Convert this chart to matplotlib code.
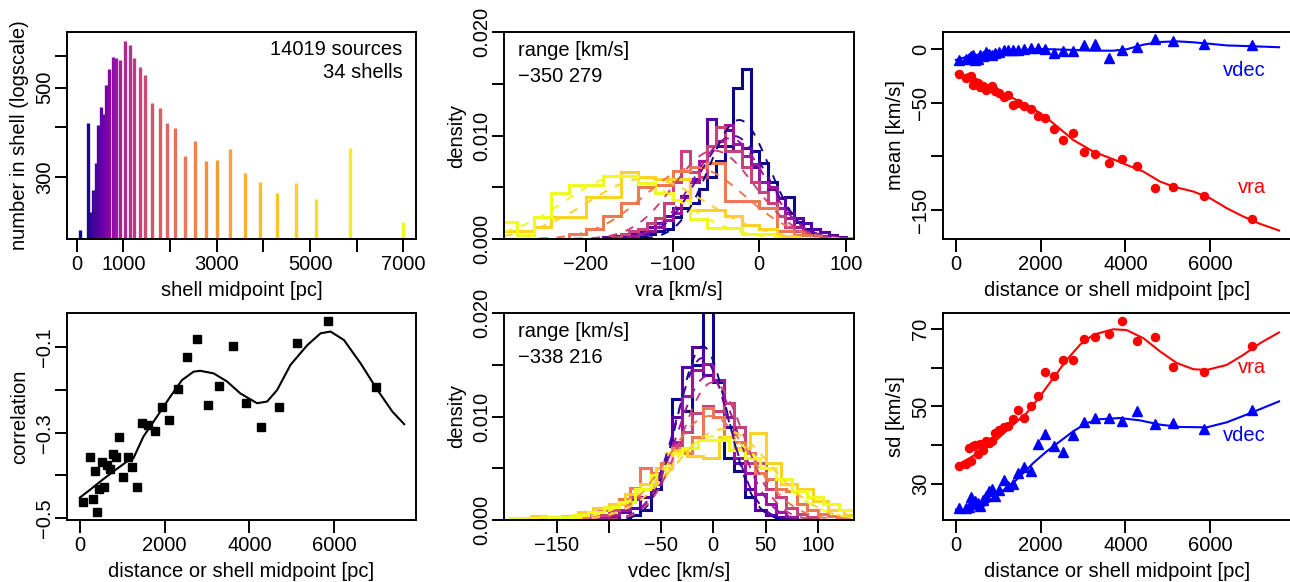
import numpy as np
import matplotlib
matplotlib.use("Agg")
import matplotlib.pyplot as plt
from matplotlib.ticker import NullLocator

plt.rcParams['font.family'] = ['Liberation Sans', 'DejaVu Sans']
plt.rcParams['font.size'] = 14.5
plt.rcParams['axes.linewidth'] = 1.4

# ---- values ----
shell_mid = [71, 235, 300, 357, 414, 457, 521, 578, 628, 699, 771, 849, 928, 1028,
             1136, 1235, 1350, 1471, 1613, 1778, 1935, 2113, 2314, 2528, 2764, 3013,
             3291, 3606, 3928, 4286, 4693, 5121, 5856, 6998]
n_in_shell = [221, 409, 245, 278, 324, 403, 447, 430, 507, 558, 598, 593, 585, 655,
              638, 592, 562, 539, 457, 446, 408, 397, 338, 368, 329, 330, 352, 307,
              291, 273, 289, 264, 354, 232]

vra_mean = [-23.2, -26.6, -25.7, -25.0, -33.5, -30.4, -32.0, -35.7, -34.5, -38.2, -36.6,
            -34.1, -38.8, -40.7, -45.0, -43.2, -52.2, -50.6, -53.1, -55.6, -62.1, -64.3,
            -74.8, -85.1, -77.9, -95.6, -97.8, -106.5, -102.1, -108.7, -129.8, -128.2,
            -136.9, -158.3]
vdec_mean = [-10, -9, -8, -7, -5.5, -10.5, -9, -6, -7, -3, -5, -5.5, -4, -3, -1, -1, -0.5,
             -1, 0, 1, 1, 0, -3.4, -2, -2, 3.7, 4.7, -8.7, -1, 1.6, 9.2, 7.4, 4.7, 3.5]
vra_sd = [34.7, 35.2, 39.3, 35.8, 39.7, 40.0, 37.8, 40.4, 38.8, 41.2, 40.6, 41.0, 43.1,
          44.0, 44.8, 45.0, 46.7, 49.0, 47.1, 50.2, 52.6, 58.9, 57.8, 62.0, 62.0, 67.3,
          68.0, 68.6, 72.1, 66.8, 68.0, 60.1, 59.0, 65.6]
vdec_sd = [23.8, 23.8, 24.0, 26.7, 25.1, 25.5, 25.0, 24.2, 25.8, 27.0, 28.1, 28.7, 26.8,
           28.5, 30.9, 29.4, 30.0, 32.8, 34.5, 33.3, 40.4, 43.0, 39.7, 38.2, 42.7, 46.1,
           47.0, 47.0, 46.3, 48.7, 45.5, 45.7, 44.2, 49.1]
corr = [-0.463, -0.356, -0.456, -0.389, -0.487, -0.432, -0.369, -0.427, -0.376, -0.384,
        -0.350, -0.356, -0.309, -0.403, -0.356, -0.380, -0.427, -0.278, -0.282, -0.295,
        -0.239, -0.270, -0.198, -0.122, -0.081, -0.235, -0.190, -0.098, -0.231, -0.286,
        -0.239, -0.089, -0.0375, -0.194]

# smooth fits
fit_x_vra_mean = [0, 331, 882, 1354, 1984, 2299, 2772, 3244, 3717, 4031, 4425, 4819,
                  5134, 5606, 6000, 6394, 6787, 7181, 7630]
fit_vra_mean = [-22.7, -28.3, -38.2, -45.9, -59.5, -69.2, -84.8, -95.6, -102.8, -108.0,
                -114.2, -123.5, -128.2, -132.8, -139.0, -148.3, -156.1, -162.9, -169.1]
fit_x_vdec_mean = [0, 331, 882, 1354, 1984, 2772, 3244, 3717, 4031, 4425, 4819, 5213,
                   5606, 6000, 6394, 7024, 7630]
fit_vdec_mean = [-10.2, -6.5, -3.0, -1.6, 0.0, -0.9, -1.6, -1.6, -0.3, 4.0, 6.5, 7.1,
                 6.2, 4.8, 3.3, 2.5, 1.6]
fit_x_vra_sd = [0, 331, 882, 1354, 1669, 1984, 2299, 2614, 2929, 3244, 3717, 4031, 4425,
                4819, 5213, 5606, 5921, 6394, 6787, 7181, 7630]
fit_vra_sd = [34.7, 36.7, 40.6, 45.3, 48.3, 52.6, 57.3, 62.0, 65.9, 68.5, 69.9, 69.7,
              67.6, 64.2, 61.2, 59.6, 59.4, 60.7, 63.3, 66.3, 69.1]
fit_x_vdec_sd = [0, 331, 646, 1039, 1433, 1827, 2142, 2457, 2772, 3087, 3402, 3874, 4346,
                 4819, 5291, 5921, 6394, 6866, 7630]
fit_vdec_sd = [23.4, 23.2, 24.2, 27.7, 31.1, 35.4, 38.4, 41.0, 43.6, 45.7, 46.7, 47.0,
               46.4, 45.3, 44.7, 44.6, 45.9, 47.9, 51.3]
fit_x_corr = [0, 237, 474, 789, 1105, 1263, 1500, 1815, 2131, 2407, 2684, 2841, 3157,
              3473, 3788, 4183, 4420, 4657, 4972, 5367, 5683, 5919, 6235, 6630, 7025,
              7380, 7656]
fit_corr = [-0.452, -0.434, -0.415, -0.391, -0.368, -0.360, -0.309, -0.263, -0.216,
            -0.177, -0.157, -0.155, -0.161, -0.180, -0.208, -0.231, -0.227, -0.200,
            -0.141, -0.095, -0.067, -0.063, -0.083, -0.138, -0.200, -0.251, -0.280]

# per-shell histograms shown in the middle panels
hist_shells = [0, 5, 11, 16, 22, 30, 33]
vra_lo = [-140, -180, -150, -170, -220, -300, -300]
vra_bw = [10, 10, 10, 10, 20, 20, 20]
vra_d1 = [0.0003, 0.0005, 0.0008, 0.0010, 0.0021, 0.0030, 0.0035, 0.0048, 0.0060, 0.0075,
          0.0090, 0.0146, 0.0164, 0.0085, 0.0073, 0.0055, 0.0030, 0.0041, 0.0016, 0.0010,
          0.0010, 0.0007, 0.0002]
vra_d2 = [0.0002, 0.0003, 0.0003, 0.0005, 0.0008, 0.0012, 0.0015, 0.0022, 0.0030, 0.0042,
          0.0058, 0.0075, 0.0116, 0.0090, 0.0105, 0.0085, 0.0088, 0.0070, 0.0055, 0.0048,
          0.0040, 0.0025, 0.0020, 0.0015, 0.0010, 0.0007, 0.0004, 0.0002]
vra_d3 = [0.0003, 0.0005, 0.0008, 0.0012, 0.0018, 0.0025, 0.0040, 0.0055, 0.0075, 0.0090,
          0.0095, 0.0110, 0.0092, 0.0080, 0.0072, 0.0055, 0.0050, 0.0030, 0.0020, 0.0012,
          0.0008, 0.0005, 0.0003]
vra_d4 = [0.0002, 0.0005, 0.0008, 0.0010, 0.0015, 0.0020, 0.0035, 0.0055, 0.0085, 0.0065,
          0.0060, 0.0090, 0.0108, 0.0085, 0.0085, 0.0070, 0.0055, 0.0045, 0.0035, 0.0022,
          0.0012, 0.0008, 0.0005, 0.0003]
vra_d5 = [0.0005, 0.0010, 0.0022, 0.0035, 0.0050, 0.0052, 0.0066, 0.0070, 0.0073, 0.0037,
          0.0037, 0.0030, 0.0008, 0.0004]
vra_d6 = [0.0008, 0.0008, 0.0012, 0.0021, 0.0021, 0.0041, 0.0041, 0.0065, 0.0060, 0.0058,
          0.0058, 0.0028, 0.0028, 0.0022, 0.0014, 0.0010, 0.0003]
vra_d7 = [0.0016, 0.0004, 0.0021, 0.0044, 0.0052, 0.0052, 0.0061, 0.0061, 0.0054, 0.0044,
          0.0038, 0.0019, 0.0011, 0.0011, 0.0005, 0.0005]

vdec_lo = [-80, -100, -110, -120, -130, -190, -195]
vdec_bw = [10, 10, 10, 10, 10, 15, 15]
vdec_d1 = [0.0005, 0.0010, 0.0030, 0.0055, 0.0117, 0.0105, 0.0150, 0.0230, 0.0133, 0.0060,
           0.0047, 0.0022, 0.0010, 0.0005, 0.0003]
vdec_d2 = [0.0003, 0.0008, 0.0012, 0.0022, 0.0040, 0.0050, 0.0100, 0.0148, 0.0167, 0.0140,
           0.0135, 0.0090, 0.0055, 0.0030, 0.0010, 0.0005, 0.0003]
vdec_d3 = [0.0003, 0.0005, 0.0010, 0.0020, 0.0030, 0.0035, 0.0050, 0.0075, 0.0120, 0.0145,
           0.0151, 0.0135, 0.0100, 0.0060, 0.0045, 0.0025, 0.0015, 0.0008, 0.0003]
vdec_d4 = [0.0003, 0.0005, 0.0010, 0.0015, 0.0022, 0.0030, 0.0040, 0.0055, 0.0072, 0.0085,
           0.0103, 0.0110, 0.0105, 0.0113, 0.0090, 0.0055, 0.0055, 0.0030, 0.0022, 0.0012,
           0.0006, 0.0003]
vdec_d5 = [0.0003, 0.0006, 0.0010, 0.0015, 0.0020, 0.0031, 0.0050, 0.0045, 0.0055, 0.0070,
           0.0065, 0.0080, 0.0108, 0.0100, 0.0080, 0.0075, 0.0065, 0.0045, 0.0040, 0.0030,
           0.0028, 0.0015, 0.0010, 0.0006, 0.0004, 0.0002]
vdec_d6 = [0.0002, 0.0004, 0.0002, 0.0004, 0.0008, 0.0012, 0.0015, 0.0025, 0.0035, 0.0050,
           0.0068, 0.0062, 0.0060, 0.0080, 0.0070, 0.0084, 0.0055, 0.0035, 0.0030, 0.0018,
           0.0010, 0.0005]
vdec_d7 = [0.0002, 0.0002, 0.0003, 0.0003, 0.0005, 0.0008, 0.0013, 0.0017, 0.0030, 0.0043,
           0.0065, 0.0070, 0.0077, 0.0077, 0.0068, 0.0060, 0.0050, 0.0040, 0.0028, 0.0022,
           0.0015, 0.0010]

vra_hists = [vra_d1, vra_d2, vra_d3, vra_d4, vra_d5, vra_d6, vra_d7]
vdec_hists = [vdec_d1, vdec_d2, vdec_d3, vdec_d4, vdec_d5, vdec_d6, vdec_d7]

M = '\u2212'
cmap = plt.get_cmap('plasma')
nsh = len(shell_mid)
cols = [cmap(i / (nsh - 1)) for i in range(nsh)]

W, H = 1290, 582
fig = plt.figure(figsize=(W / 100, H / 100), dpi=100)


def box(l, t, r, b):
    return fig.add_axes([l / W, (H - b) / H, (r - l) / W, (b - t) / H])


def base(ax, xt, xl, yt, yl, xlab, ylab):
    ax.set_xticks(xt)
    ax.set_xticklabels(xl)
    ax.set_yticks(yt)
    ax.set_yticklabels(yl, rotation=90, va='center')
    ax.tick_params(direction='out', length=9, width=1.4, top=False, right=False)
    ax.tick_params(axis='x', pad=2.7)
    ax.tick_params(axis='y', pad=0.5)
    ax.set_xlabel(xlab)
    ax.set_ylabel(ylab)
    ax.xaxis.set_label_coords(0.5, -0.205)
    ax.yaxis.set_label_coords(-0.108, 0.5)


# ---- panel 1: counts per shell ----
ax1 = box(67, 32, 416, 239)
ax1.set_yscale('log')
ax1.vlines(shell_mid, 1, n_in_shell, colors=cols, lw=2.4, capstyle='butt')
ax1.set_xlim(-208, 7270)
ax1.set_ylim(209.9, 688.5)
ax1.yaxis.set_minor_locator(NullLocator())
base(ax1, range(0, 7001, 1000), ['0', '1000', '', '3000', '', '5000', '', '7000'],
     [300, 400, 500, 600], ['300', '', '500', ''],
     'shell midpoint [pc]', 'number in shell (logscale)')
ax1.text(0.961, 0.889, '14019 sources', transform=ax1.transAxes, ha='right', va='baseline')
ax1.text(0.961, 0.776, '%d shells' % nsh, transform=ax1.transAxes, ha='right', va='baseline')


def hist_panel(ax, hists, lo, bw, means, sds, xlim):
    xs = np.linspace(xlim[0], xlim[1], 400)
    for k, s in enumerate(hist_shells):
        d = hists[k]
        edges = lo[k] + bw[k] * np.arange(len(d) + 1)
        ax.stairs(d, edges, baseline=0, color=cols[s], lw=2.2)
        pdf = np.exp(-0.5 * ((xs - means[s]) / sds[s]) ** 2) / (sds[s] * np.sqrt(2 * np.pi))
        ax.plot(xs, pdf, color=cols[s], lw=1.4, dashes=(4.5, 4.5))
    ax.set_xlim(*xlim)
    ax.set_ylim(0, 0.020)


# ---- panel 2: vra histograms ----
ax2 = box(504, 32, 854, 239)
hist_panel(ax2, vra_hists, vra_lo, vra_bw, vra_mean, vra_sd, (-294.6, 109.3))
base(ax2, [-200, -100, 0, 100], [M + '200', M + '100', '0', '100'],
     [0, 0.005, 0.01, 0.015, 0.02], ['0.000', '', '0.010', '', '0.020'],
     'vra [km/s]', 'density')
ax2.text(0.039, 0.882, 'range [km/s]', transform=ax2.transAxes, va='baseline')
ax2.text(0.039, 0.758, M + '350 279', transform=ax2.transAxes, va='baseline')

# ---- panel 3: means ----
ax3 = box(943, 32, 1292, 239)
ax3.plot(fit_x_vdec_mean, fit_vdec_mean, color='#0000FF', lw=1.5)
ax3.plot(fit_x_vra_mean, fit_vra_mean, color='#FF0000', lw=1.5)
ax3.plot(shell_mid, vdec_mean, '^', color='#0000FF', ms=6.5)
ax3.plot(shell_mid, vra_mean, 'o', color='#FF0000', ms=5.8)
ax3.set_xlim(-305, 7935)
ax3.set_ylim(-177, 15.8)
base(ax3, [0, 2000, 4000, 6000], ['0', '2000', '4000', '6000'],
     [0, -50, -100, -150], ['0', M + '50', '', M + '150'],
     'distance or shell midpoint [pc]', 'mean [km/s]')
ax3.text(7323, -25.2, 'vdec', color='#0000FF', ha='right', va='baseline')
ax3.text(7323, -134.4, 'vra', color='#FF0000', ha='right', va='baseline')

# ---- panel 4: correlation ----
ax4 = box(67, 313, 416, 520)
ax4.plot(fit_x_corr, fit_corr, color='black', lw=1.5)
ax4.plot(shell_mid, corr, 's', color='black', ms=6)
ax4.set_xlim(-305, 7935)
ax4.set_ylim(-0.5047, -0.0195)
base(ax4, [0, 2000, 4000, 6000], ['0', '2000', '4000', '6000'],
     [-0.5, -0.4, -0.3, -0.2, -0.1], [M + '0.5', '', M + '0.3', '', M + '0.1'],
     'distance or shell midpoint [pc]', 'correlation')

# ---- panel 5: vdec histograms ----
ax5 = box(504, 313, 854, 520)
hist_panel(ax5, vdec_hists, vdec_lo, vdec_bw, vdec_mean, vdec_sd, (-200.4, 134.7))
base(ax5, [-150, -100, -50, 0, 50, 100], [M + '150', '', M + '50', '0', '50', '100'],
     [0, 0.005, 0.01, 0.015, 0.02], ['0.000', '', '0.010', '', '0.020'],
     'vdec [km/s]', 'density')
ax5.text(0.039, 0.882, 'range [km/s]', transform=ax5.transAxes, va='baseline')
ax5.text(0.039, 0.758, M + '338 216', transform=ax5.transAxes, va='baseline')

# ---- panel 6: standard deviations ----
ax6 = box(943, 313, 1292, 520)
ax6.plot(fit_x_vdec_sd, fit_vdec_sd, color='#0000FF', lw=1.5)
ax6.plot(fit_x_vra_sd, fit_vra_sd, color='#FF0000', lw=1.5)
ax6.plot(shell_mid, vdec_sd, '^', color='#0000FF', ms=6.5)
ax6.plot(shell_mid, vra_sd, 'o', color='#FF0000', ms=5.8)
ax6.set_xlim(-305, 7935)
ax6.set_ylim(20.7, 74.1)
base(ax6, [0, 2000, 4000, 6000], ['0', '2000', '4000', '6000'],
     [30, 40, 50, 60, 70], ['30', '', '50', '', '70'],
     'distance or shell midpoint [pc]', 'sd [km/s]')
ax6.text(7323, 58.75, 'vra', color='#FF0000', ha='right', va='baseline')
ax6.text(7323, 41.0, 'vdec', color='#0000FF', ha='right', va='baseline')

fig.savefig('out.png', dpi=100, facecolor='white')
